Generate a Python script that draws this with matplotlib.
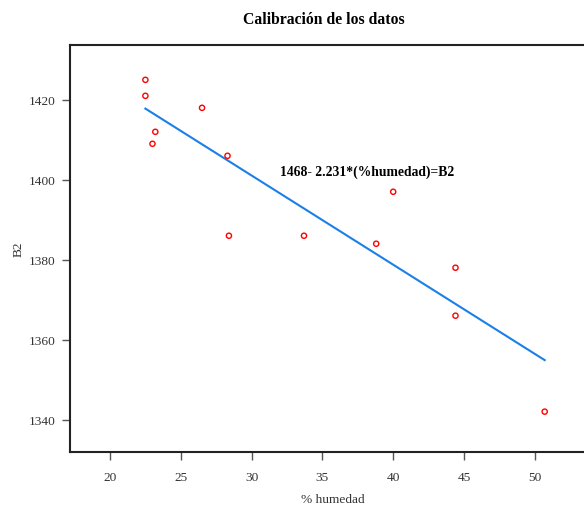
import matplotlib.pyplot as plt

# data
humedad = [22.5, 22.5, 23.2, 23.0, 26.5, 28.3, 28.4, 33.7, 38.8, 40.0, 44.4, 44.4, 50.7]
b2 = [1425, 1421, 1412, 1409, 1418, 1406, 1386, 1386, 1384, 1397, 1378, 1366, 1342]
intercept = 1468
slope = -2.231
xticks = [20, 25, 30, 35, 40, 45, 50]
yticks = [1340, 1360, 1380, 1400, 1420]

plt.rcParams['font.family'] = ['Liberation Serif', 'DejaVu Serif']

fig = plt.figure(figsize=(5.84, 5.06), dpi=100)
ax = fig.add_axes([0.1207, 0.1047, 0.9, 0.8043])

ax.scatter(humedad, b2, s=14, facecolors='none', edgecolors='#ff0000', linewidths=1.0, zorder=3)

x0, x1 = min(humedad), max(humedad)
ax.plot([x0, x1], [intercept + slope * x0, intercept + slope * x1], color='#1a7fe8', lw=1.5)

ax.text(32.0, 1402.2, "1468- 2.231*(%humedad)=B2", fontsize=9.8, fontweight='bold', va='center', ha='left')

ax.set_xlim(17.21, 54.33)
ax.set_ylim(1331.9, 1433.7)
ax.set_xticks(xticks)
ax.set_yticks(yticks)
ax.tick_params(direction='out', length=6, width=1, color='#555555', labelsize=9.6, labelcolor='#333333')
ax.tick_params(axis='y', pad=4.8)
ax.tick_params(axis='x', pad=8)

for s in ax.spines.values():
    s.set_linewidth(1.5)
    s.set_color('#222222')

ax.set_xlabel("% humedad", fontsize=9.6, color='#333333', labelpad=7)
ax.set_ylabel("B2", fontsize=9.6, color='#333333', labelpad=3)
fig.text(0.555, 0.961, "Calibración de los datos", fontsize=11.3, fontweight='bold', ha='center', va='center')

fig.savefig("out.png", dpi=100)
